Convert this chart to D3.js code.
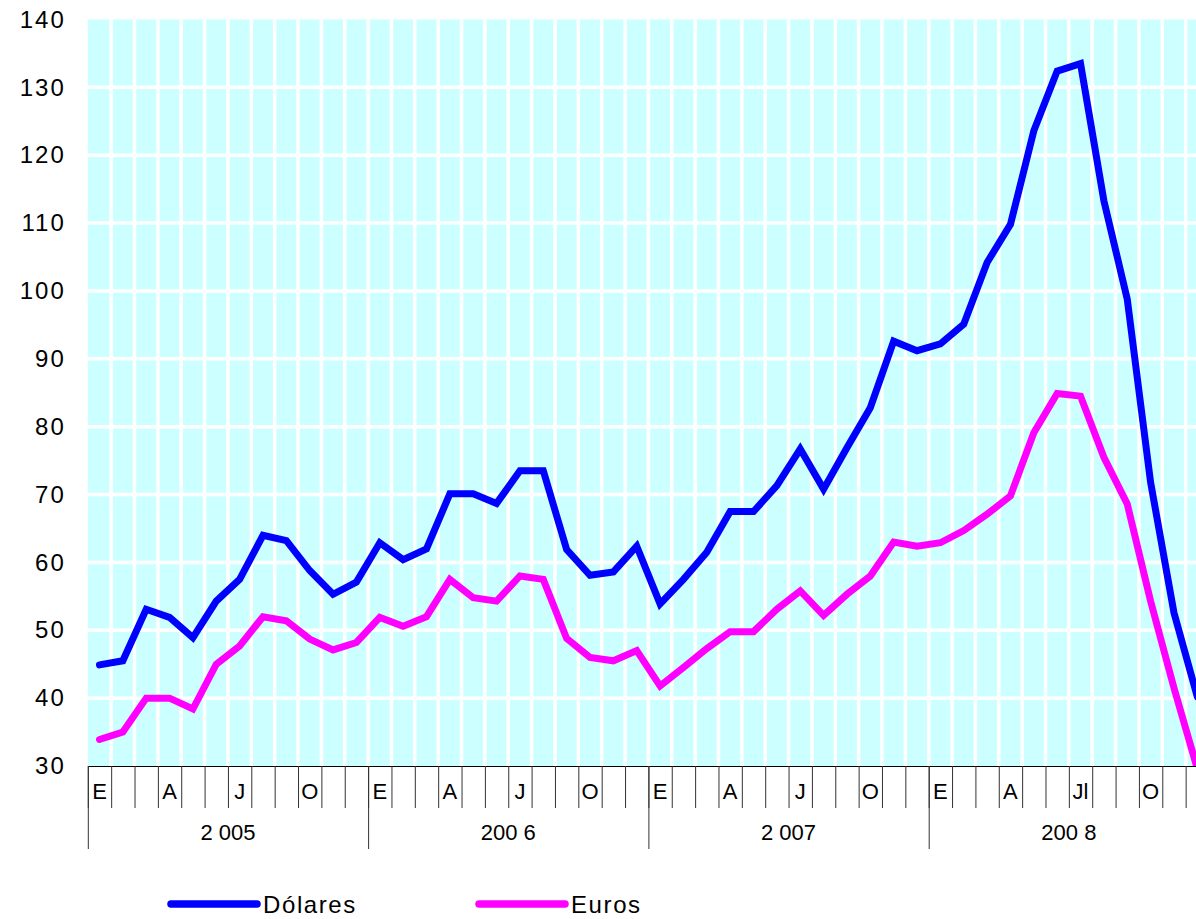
<!DOCTYPE html>
<meta charset="utf-8">
<style>
body { margin: 0; background: #fff; }
text { font-family: "Liberation Sans", Arial, sans-serif; fill: #000; }
.axis--y text { font-size: 24px; letter-spacing: 2px; }
.month { font-size: 22px; }
.year { font-size: 22px; }
.legend text { font-size: 24px; letter-spacing: 1.6px; }
</style>
<svg width="1196" height="919"></svg>
<script src="https://d3js.org/d3.v7.min.js"></script>
<script>

// monthly values, Jan 2005 .. Dec 2008
var dolares = [
  44.9, 45.5, 53.1, 51.9, 48.9, 54.3, 57.5, 64.0, 63.2, 58.8, 55.3, 57.1,
  62.9, 60.4, 62.0, 70.1, 70.1, 68.7, 73.5, 73.5, 61.9, 58.1, 58.6, 62.4,
  53.9, 57.5, 61.5, 67.5, 67.5, 71.3, 76.7, 70.8, 76.9, 82.8, 92.6, 91.2,
  92.2, 95.1, 104.2, 109.8, 123.6, 132.4, 133.5, 113.3, 98.8, 71.8, 52.6, 40.2
];
var euros = [
  33.9, 35.0, 40.0, 40.0, 38.4, 45.0, 47.7, 52.0, 51.4, 48.7, 47.1, 48.2,
  51.9, 50.6, 52.0, 57.5, 54.8, 54.3, 58.0, 57.5, 48.8, 46.0, 45.5, 47.0,
  41.8, 44.5, 47.3, 49.8, 49.8, 53.1, 55.8, 52.2, 55.3, 58.0, 63.0, 62.4,
  62.9, 64.7, 67.1, 69.8, 79.1, 84.9, 84.5, 75.5, 68.6, 54.3, 41.5, 29.6
];
var monthLabels = [
  "E", "", "", "A", "", "", "J", "", "", "O", "", "",
  "E", "", "", "A", "", "", "J", "", "", "O", "", "",
  "E", "", "", "A", "", "", "J", "", "", "O", "", "",
  "E", "", "", "A", "", "", "Jl", "", "", "O", "", ""
];
var years = ["2 005", "200 6", "2 007", "200 8"];
var yTicks = [30, 40, 50, 60, 70, 80, 90, 100, 110, 120, 130, 140];
var series = [
  {name: "Dólares", values: dolares, color: "#0000ff"},
  {name: "Euros", values: euros, color: "#ff00ff"}
];

var svg = d3.select("svg"),
    pLeft = 87.8, pRight = 1209, pTop = 19.5, pBottom = 766;

// x: month index (boundaries) -> px
var x = d3.scaleLinear().domain([0, 48]).range([pLeft, pRight]);
var y = d3.scaleLinear().domain([30, 140]).range([pBottom, pTop]);
var xc = function(i) { return x(i + 0.5); };

svg.append("defs").append("clipPath").attr("id", "plot")
  .append("rect")
    .attr("x", pLeft).attr("y", pTop)
    .attr("width", pRight - pLeft).attr("height", pBottom - pTop);

// background + white grid
svg.append("rect")
    .attr("x", pLeft).attr("y", pTop)
    .attr("width", pRight - pLeft).attr("height", pBottom - pTop)
    .attr("fill", "#ccffff");

svg.append("g").selectAll("line")
  .data(d3.range(1, 48))
  .enter().append("line")
    .attr("x1", function(d) { return x(d); })
    .attr("x2", function(d) { return x(d); })
    .attr("y1", pTop).attr("y2", pBottom)
    .attr("stroke", "#fff").attr("stroke-width", 3.5);

svg.append("g").selectAll("line")
  .data(yTicks.slice(1, -1))
  .enter().append("line")
    .attr("x1", pLeft).attr("x2", pRight)
    .attr("y1", function(d) { return y(d); })
    .attr("y2", function(d) { return y(d); })
    .attr("stroke", "#fff").attr("stroke-width", 3.5);

// y axis labels (no axis line)
var yAxis = svg.append("g")
    .attr("class", "axis axis--y")
    .attr("transform", "translate(" + pLeft + ",0)")
    .call(d3.axisLeft(y).tickValues(yTicks).tickSize(0).tickPadding(22));
yAxis.select(".domain").remove();
yAxis.selectAll("text").attr("font-size", null).attr("font-family", null);

// month ticks
var mAxis = svg.append("g")
    .attr("transform", "translate(0," + pBottom + ")")
    .call(d3.axisBottom(x).tickValues(d3.range(0, 49)).tickSize(42).tickSizeOuter(0).tickFormat(""));
mAxis.select(".domain").attr("stroke", "#000");
mAxis.selectAll(".tick line").attr("stroke", "#333");

// year ticks
svg.append("g")
    .attr("transform", "translate(0," + pBottom + ")")
    .call(d3.axisBottom(x).tickValues([0, 12, 24, 36, 48]).tickSize(83).tickSizeOuter(0).tickFormat(""))
  .call(function(g) { g.select(".domain").remove(); })
  .selectAll(".tick line").attr("stroke", "#333");

svg.append("g").selectAll("text")
  .data(monthLabels)
  .enter().append("text")
    .attr("class", "month")
    .attr("x", function(d, i) { return xc(i); })
    .attr("y", 799)
    .attr("text-anchor", "middle")
    .text(function(d) { return d; });

svg.append("g").selectAll("text")
  .data(years)
  .enter().append("text")
    .attr("class", "year")
    .attr("x", function(d, i) { return x(i * 12 + 6); })
    .attr("y", 840)
    .attr("text-anchor", "middle")
    .text(function(d) { return d; });

// lines
var line = d3.line()
    .x(function(d, i) { return xc(i); })
    .y(function(d) { return y(d); });

svg.append("g").attr("clip-path", "url(#plot)")
  .selectAll("path")
  .data(series)
  .enter().append("path")
    .attr("d", function(d) { return line(d.values); })
    .attr("fill", "none")
    .attr("stroke", function(d) { return d.color; })
    .attr("stroke-width", 7)
    .attr("stroke-linejoin", "miter")
    .attr("stroke-linecap", "round");

// legend
var legend = svg.append("g").attr("class", "legend")
  .selectAll("g")
  .data(series)
  .enter().append("g")
    .attr("transform", function(d, i) { return "translate(" + (171 + i * 308) + ",904)"; });

legend.append("line")
    .attr("x1", 0).attr("x2", 86)
    .attr("stroke", function(d) { return d.color; })
    .attr("stroke-width", 7.5)
    .attr("stroke-linecap", "round");

legend.append("text")
    .attr("x", 92).attr("y", 9)
    .text(function(d) { return d.name; });

</script>
